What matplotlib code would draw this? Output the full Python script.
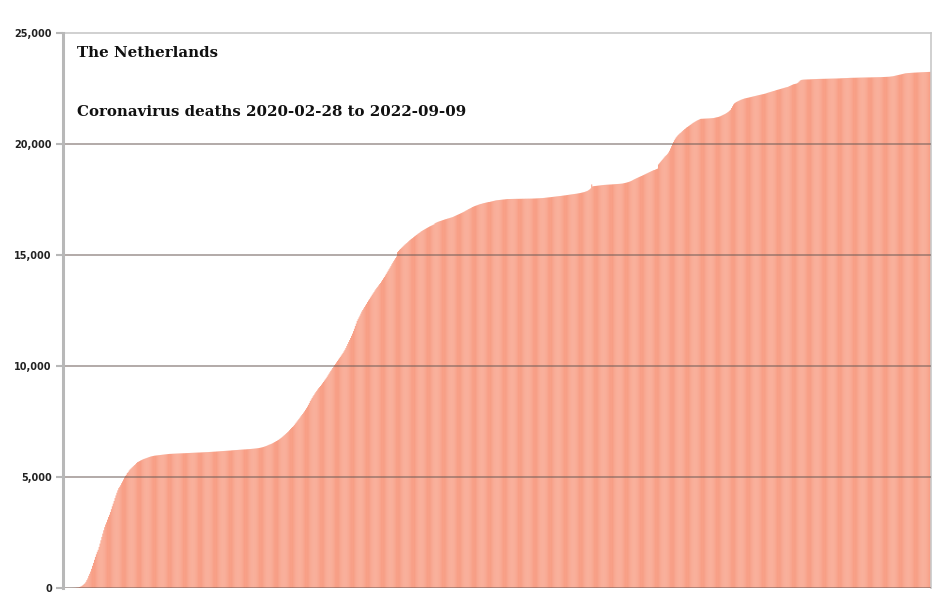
import numpy as np
import matplotlib
matplotlib.use("Agg")
import matplotlib.pyplot as plt
from matplotlib.ticker import FuncFormatter

# cumulative coronavirus deaths, one value per day from 2020-02-28 (rows of 10 days)
deaths = [
    0, 0, 0, 0, 0, 0, 0, 1, 1, 3,
    5, 7, 10, 12, 20, 24, 30, 43, 58, 76,
    106, 136, 179, 213, 276, 356, 434, 546, 639, 740,
    864, 1000, 1130, 1270, 1400, 1520, 1630, 1720, 1850, 2000,
    2150, 2300, 2450, 2600, 2740, 2860, 2960, 3080, 3200, 3300,
    3420, 3550, 3680, 3800, 3920, 4050, 4170, 4290, 4400, 4500,
    4560, 4630, 4720, 4800, 4890, 4980, 5050, 5100, 5180, 5220,
    5290, 5340, 5380, 5420, 5460, 5500, 5540, 5580, 5630, 5670,
    5690, 5715, 5740, 5760, 5780, 5800, 5815, 5830, 5845, 5860,
    5875, 5890, 5905, 5920, 5930, 5940, 5950, 5960, 5965, 5970,
    5975, 5980, 5985, 5990, 5995, 6000, 6005, 6010, 6015, 6020,
    6025, 6030, 6035, 6040, 6042, 6044, 6046, 6048, 6050, 6052,
    6054, 6056, 6058, 6060, 6062, 6064, 6066, 6068, 6070, 6072,
    6074, 6076, 6078, 6080, 6082, 6084, 6086, 6088, 6090, 6092,
    6094, 6096, 6098, 6100, 6102, 6104, 6106, 6108, 6110, 6112,
    6114, 6116, 6118, 6120, 6122, 6125, 6128, 6130, 6133, 6136,
    6139, 6142, 6145, 6148, 6151, 6154, 6157, 6160, 6163, 6166,
    6169, 6172, 6175, 6178, 6181, 6184, 6187, 6190, 6194, 6198,
    6202, 6205, 6208, 6211, 6214, 6217, 6220, 6224, 6227, 6230,
    6233, 6236, 6239, 6242, 6245, 6248, 6251, 6254, 6257, 6260,
    6264, 6268, 6272, 6276, 6280, 6285, 6290, 6296, 6302, 6310,
    6320, 6330, 6340, 6352, 6366, 6380, 6396, 6412, 6430, 6450,
    6465, 6480, 6500, 6520, 6545, 6570, 6595, 6620, 6645, 6670,
    6700, 6730, 6760, 6795, 6830, 6865, 6900, 6940, 6980, 7020,
    7060, 7110, 7160, 7210, 7250, 7290, 7340, 7400, 7450, 7505,
    7560, 7615, 7670, 7730, 7785, 7840, 7900, 7960, 8030, 8100,
    8170, 8250, 8330, 8420, 8490, 8560, 8630, 8690, 8760, 8820,
    8880, 8940, 9000, 9050, 9100, 9160, 9220, 9280, 9340, 9395,
    9450, 9515, 9580, 9650, 9715, 9780, 9840, 9910, 9970, 10040,
    10100, 10165, 10230, 10290, 10350, 10410, 10470, 10530, 10590, 10660,
    10730, 10810, 10900, 10990, 11080, 11170, 11260, 11360, 11460, 11570,
    11680, 11800, 11910, 12030, 12110, 12190, 12270, 12360, 12450, 12520,
    12590, 12660, 12730, 12800, 12880, 12950, 13010, 13080, 13140, 13210,
    13270, 13330, 13400, 13460, 13520, 13570, 13630, 13690, 13740, 13810,
    13880, 13950, 14010, 14080, 14150, 14220, 14290, 14360, 14430, 14500,
    14580, 14650, 14720, 14790, 14860, 14930, 15130, 15180, 15230, 15270,
    15310, 15350, 15390, 15430, 15470, 15505, 15540, 15580, 15620, 15660,
    15695, 15730, 15760, 15800, 15835, 15865, 15900, 15930, 15960, 15990,
    16020, 16050, 16080, 16105, 16130, 16155, 16180, 16205, 16230, 16255,
    16280, 16300, 16320, 16340, 16360, 16380, 16430, 16450, 16470, 16490,
    16505, 16520, 16535, 16550, 16565, 16580, 16595, 16610, 16620, 16635,
    16645, 16660, 16670, 16685, 16695, 16710, 16730, 16750, 16770, 16790,
    16810, 16830, 16850, 16870, 16890, 16910, 16930, 16950, 16975, 17000,
    17020, 17045, 17070, 17090, 17110, 17135, 17160, 17180, 17200, 17215,
    17230, 17245, 17260, 17275, 17290, 17300, 17310, 17325, 17335, 17345,
    17355, 17365, 17375, 17385, 17390, 17400, 17410, 17420, 17430, 17440,
    17450, 17460, 17465, 17470, 17475, 17480, 17485, 17490, 17495, 17500,
    17505, 17510, 17515, 17520, 17520, 17522, 17522, 17524, 17524, 17526,
    17526, 17528, 17528, 17530, 17530, 17530, 17532, 17532, 17532, 17534,
    17534, 17534, 17536, 17536, 17536, 17538, 17538, 17538, 17540, 17540,
    17542, 17544, 17546, 17548, 17550, 17552, 17554, 17556, 17558, 17560,
    17563, 17566, 17570, 17575, 17580, 17585, 17590, 17595, 17600, 17605,
    17610, 17615, 17620, 17625, 17630, 17635, 17640, 17645, 17650, 17655,
    17660, 17666, 17672, 17678, 17684, 17690, 17696, 17702, 17708, 17714,
    17720, 17726, 17732, 17738, 17744, 17750, 17756, 17762, 17770, 17778,
    17785, 17795, 17805, 17815, 17825, 17835, 17850, 17865, 17880, 17900,
    17930, 17960, 18000, 18180, 18090, 18100, 18105, 18110, 18115, 18120,
    18125, 18130, 18135, 18140, 18145, 18150, 18155, 18158, 18161, 18164,
    18167, 18170, 18173, 18176, 18179, 18182, 18185, 18188, 18191, 18194,
    18197, 18200, 18203, 18206, 18210, 18215, 18220, 18230, 18240, 18250,
    18262, 18274, 18286, 18300, 18316, 18334, 18354, 18376, 18400, 18420,
    18440, 18460, 18480, 18500, 18520, 18540, 18560, 18580, 18600, 18620,
    18640, 18660, 18680, 18700, 18720, 18740, 18760, 18780, 18800, 18820,
    18830, 18850, 18870, 18890, 19080, 19130, 19180, 19230, 19280, 19330,
    19380, 19430, 19470, 19510, 19560, 19620, 19700, 19800, 19900, 20000,
    20090, 20170, 20240, 20300, 20350, 20400, 20440, 20480, 20510, 20550,
    20590, 20630, 20670, 20700, 20740, 20770, 20800, 20830, 20860, 20890,
    20920, 20950, 20975, 21000, 21025, 21050, 21070, 21090, 21110, 21130,
    21135, 21138, 21140, 21142, 21144, 21146, 21148, 21150, 21152, 21155,
    21158, 21162, 21166, 21170, 21180, 21190, 21200, 21210, 21220, 21235,
    21250, 21270, 21290, 21310, 21330, 21350, 21375, 21400, 21430, 21460,
    21500, 21540, 21620, 21700, 21780, 21830, 21860, 21890, 21910, 21930,
    21950, 21970, 21990, 22005, 22020, 22035, 22050, 22060, 22070, 22080,
    22090, 22100, 22110, 22120, 22130, 22140, 22150, 22160, 22170, 22180,
    22190, 22200, 22210, 22220, 22230, 22240, 22250, 22260, 22270, 22285,
    22300, 22312, 22325, 22338, 22350, 22362, 22375, 22388, 22400, 22415,
    22430, 22442, 22454, 22466, 22478, 22490, 22502, 22514, 22526, 22538,
    22550, 22560, 22570, 22590, 22610, 22630, 22650, 22670, 22690, 22700,
    22710, 22720, 22740, 22770, 22810, 22850, 22880, 22890, 22895, 22900,
    22902, 22904, 22906, 22908, 22910, 22912, 22914, 22916, 22918, 22920,
    22922, 22924, 22926, 22928, 22930, 22931, 22932, 22933, 22934, 22935,
    22936, 22937, 22938, 22939, 22940, 22941, 22942, 22943, 22944, 22945,
    22946, 22947, 22948, 22949, 22950, 22952, 22954, 22956, 22958, 22960,
    22962, 22964, 22966, 22968, 22970, 22972, 22974, 22976, 22978, 22980,
    22981, 22982, 22983, 22984, 22985, 22986, 22987, 22988, 22989, 22990,
    22991, 22992, 22993, 22994, 22995, 22996, 22997, 22998, 22999, 23000,
    23001, 23002, 23003, 23004, 23005, 23006, 23007, 23008, 23009, 23010,
    23011, 23012, 23014, 23016, 23018, 23020, 23022, 23024, 23026, 23028,
    23030, 23035, 23040, 23045, 23050, 23060, 23070, 23080, 23090, 23100,
    23110, 23120, 23130, 23140, 23150, 23160, 23170, 23180, 23185, 23190,
    23195, 23198, 23200, 23203, 23206, 23209, 23212, 23215, 23218, 23220,
    23222, 23224, 23226, 23228, 23230, 23232, 23234, 23236, 23238, 23240,
    23242, 23244, 23246, 23248, 23250,
]

y_ticks = [0, 5000, 10000, 15000, 20000, 25000]
title_1 = "The Netherlands"
title_2 = "Coronavirus deaths 2020-02-28 to 2022-09-09"

fig = plt.figure(figsize=(9.52, 6.05), dpi=100)
ax = fig.add_axes([63/952, 1 - 588/605, (931 - 63)/952, (588 - 33)/605])

days = np.arange(len(deaths))
bars = ax.bar(days, deaths, width=0.9, color="#F78F72", edgecolor="none", zorder=2)
for b in bars:
    b.set_snap(False)

ax.set_xlim(-0.5, len(deaths) - 0.5)
ax.set_ylim(0, 25000)
ax.set_yticks(y_ticks)
ax.yaxis.set_major_formatter(FuncFormatter(lambda v, p: f"{int(v):,}"))
ax.set_xticks([])

for t in y_ticks[:-1]:
    ax.axhline(t, color="#6a5a55", alpha=0.55, lw=1.3, zorder=3)

for side in ["top", "right"]:
    ax.spines[side].set_color("#c8c8c8")
    ax.spines[side].set_linewidth(1.2)
ax.spines["left"].set_color("#b8b8b8")
ax.spines["left"].set_linewidth(2.2)
ax.spines["bottom"].set_visible(False)
ax.spines["left"].set_zorder(4)

ax.tick_params(axis="y", length=5, width=1.5, color="#b8b8b8", pad=3,
               labelsize=7)
for lab in ax.get_yticklabels():
    lab.set_fontweight("bold")
    lab.set_color("#222222")

ax.text(77/868 - 63/868, 1 - (53 - 33)/555, title_1, transform=ax.transAxes,
        family="DejaVu Serif", fontweight="bold", fontsize=10.8,
        va="center", ha="left", color="#111111")
ax.text(77/868 - 63/868, 1 - (112 - 33)/555, title_2, transform=ax.transAxes,
        family="DejaVu Serif", fontweight="bold", fontsize=10.8,
        va="center", ha="left", color="#111111")

fig.savefig("out.png", dpi=100)
